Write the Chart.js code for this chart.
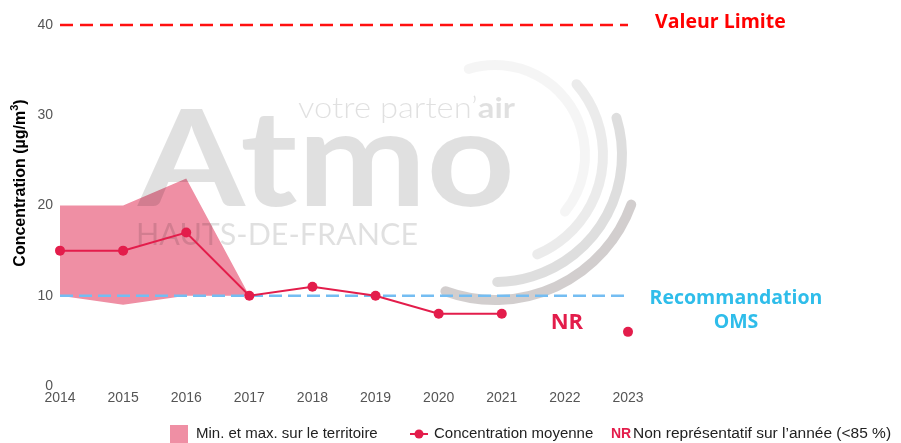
<!DOCTYPE html>
<html>
<head>
<meta charset="utf-8">
<script src="https://cdn.jsdelivr.net/npm/chart.js@4"></script>
<style>
  html, body { margin: 0; padding: 0; background: #fff; }
</style>
</head>
<body>
<canvas id="chart" width="901" height="443"></canvas>
<script>
const years = ["2014", "2015", "2016", "2017", "2018", "2019", "2020", "2021", "2022", "2023"];
const meanValues = [15, 15, 17, 10, 11, 10, 8, 8, null, 6];
const maxValues = [20, 20, 23, 10, null, null, null, null, null, null];
const minValues = [10, 9, 10, 10, null, null, null, null, null, null];
const yTicks = [0, 10, 20, 30, 40];
const limitValue = 40;
const omsValue = 10;
const nrYear = "2022";

const crimson = "#e31d4b";
const bandPink = "#ef8fa4";
const sans = '"Liberation Sans", Arial, sans-serif';

// logo in the background (drawn right after the min/max band)
function drawWatermark(ctx) {
  ctx.save();
  ctx.fillStyle = "rgba(0,0,0,0.12)";
  ctx.textBaseline = "alphabetic";

  ctx.font = 'bold 135px Lato, sans-serif';
  let w = ctx.measureText("Atmo").width;
  ctx.save();
  ctx.translate(138, 206);
  ctx.scale(377 / w, 1);
  ctx.fillText("Atmo", 0, 0);
  ctx.restore();

  ctx.font = '300 29px Lato, sans-serif';
  const light = "votre parten’";
  const lw = ctx.measureText(light).width;
  ctx.font = 'bold 29px Lato, sans-serif';
  const bw = ctx.measureText("air").width;
  ctx.save();
  ctx.translate(298, 118);
  ctx.scale(217 / (lw + bw), 1);
  ctx.font = '300 29px Lato, sans-serif';
  ctx.fillText(light, 0, 0);
  ctx.font = 'bold 29px Lato, sans-serif';
  ctx.fillText("air", lw, 0);
  ctx.restore();

  ctx.font = '31px Lato, sans-serif';
  w = ctx.measureText("HAUTS-DE-FRANCE").width;
  ctx.save();
  ctx.translate(136, 245);
  ctx.scale(282 / w, 1);
  ctx.fillText("HAUTS-DE-FRANCE", 0, 0);
  ctx.restore();

  const arcs = [
    { r: 90, a0: -107, a1: 39, c: "rgba(0,0,0,0.04)" },
    { r: 108, a0: -41, a1: 67, c: "rgba(0,0,0,0.08)" },
    { r: 127, a0: -17, a1: 89, c: "rgba(0,0,0,0.13)" },
    { r: 145, a0: 20, a1: 110, c: "rgba(90,75,75,0.27)" }
  ];
  ctx.lineWidth = 10;
  ctx.lineCap = "round";
  arcs.forEach(a => {
    ctx.strokeStyle = a.c;
    ctx.beginPath();
    ctx.arc(495, 155, a.r, a.a0 * Math.PI / 180, a.a1 * Math.PI / 180);
    ctx.stroke();
  });
  ctx.restore();
}

const extras = {
  id: "extras",
  afterDatasetDraw(chart, args) {
    if (args.index === 1) drawWatermark(chart.ctx);
  },
  afterDraw(chart) {
    const ctx = chart.ctx;
    const area = chart.chartArea;
    const x = chart.scales.x;
    const y = chart.scales.y;
    ctx.save();

    // y axis title
    ctx.save();
    ctx.translate(21, 183);
    ctx.rotate(-Math.PI / 2);
    ctx.fillStyle = "#000";
    ctx.textBaseline = "middle";
    ctx.font = "bold 16px " + sans;
    const t1 = "Concentration (µg/m";
    const w1 = ctx.measureText(t1).width;
    ctx.font = "bold 11px " + sans;
    const w2 = ctx.measureText("3").width;
    ctx.font = "bold 16px " + sans;
    const w3 = ctx.measureText(")").width;
    const sx = -(w1 + w2 + w3) / 2;
    ctx.textAlign = "left";
    ctx.fillText(t1, sx, 0);
    ctx.font = "bold 11px " + sans;
    ctx.fillText("3", sx + w1, -6);
    ctx.font = "bold 16px " + sans;
    ctx.fillText(")", sx + w1 + w2, 0);
    ctx.restore();

    // threshold labels
    ctx.textBaseline = "middle";
    ctx.font = 'bold 19.5px "Open Sans", sans-serif';
    ctx.fillStyle = "#ff0000";
    ctx.textAlign = "left";
    ctx.fillText("Valeur Limite", area.right + 27, y.getPixelForValue(limitValue) - 3);

    ctx.fillStyle = "#2fbdea";
    ctx.textAlign = "center";
    const oy = y.getPixelForValue(omsValue);
    ctx.fillText("Recommandation", area.right + 108, oy + 3);
    ctx.fillText("OMS", area.right + 108, oy + 27);

    ctx.fillStyle = crimson;
    ctx.font = 'bold 22px "Open Sans", sans-serif';
    ctx.fillText("NR", x.getPixelForValue(years.indexOf(nrYear)) + 2, y.getPixelForValue(7));

    // legend
    const ly = 434;
    ctx.textAlign = "left";
    ctx.fillStyle = bandPink;
    ctx.fillRect(170, 425, 18, 18);
    ctx.fillStyle = "#222";
    ctx.font = "15px " + sans;
    ctx.fillText("Min. et max. sur le territoire", 196, ly);

    ctx.strokeStyle = crimson;
    ctx.lineWidth = 2;
    ctx.beginPath();
    ctx.moveTo(410, ly);
    ctx.lineTo(428, ly);
    ctx.stroke();
    ctx.fillStyle = crimson;
    ctx.beginPath();
    ctx.arc(419, ly, 4.5, 0, Math.PI * 2);
    ctx.fill();
    ctx.fillStyle = "#222";
    ctx.fillText("Concentration moyenne", 434, ly);

    ctx.fillStyle = crimson;
    ctx.font = "bold 14px " + sans;
    ctx.fillText("NR", 611, ly);
    ctx.fillStyle = "#222";
    ctx.font = "15.5px " + sans;
    ctx.fillText("Non représentatif sur l’année (<85 %)", 633, ly);

    ctx.restore();
  }
};

new Chart(document.getElementById("chart").getContext("2d"), {
  type: "line",
  data: {
    labels: years,
    datasets: [
      {
        label: "Concentration moyenne",
        data: meanValues,
        borderColor: crimson,
        backgroundColor: crimson,
        borderWidth: 2,
        pointRadius: 5,
        pointBorderWidth: 0,
        spanGaps: false,
        fill: false,
        clip: false,
        order: 0
      },
      {
        label: "Max",
        data: maxValues,
        borderWidth: 0,
        borderColor: "rgba(0,0,0,0)",
        backgroundColor: bandPink,
        pointRadius: 0,
        fill: "+1",
        order: 3
      },
      {
        label: "Min",
        data: minValues,
        borderWidth: 0,
        borderColor: "rgba(0,0,0,0)",
        pointRadius: 0,
        fill: false,
        order: 4
      },
      {
        label: "Valeur Limite",
        data: years.map(() => limitValue),
        borderColor: "#ff1010",
        borderWidth: 2.5,
        borderDash: [13, 7],
        pointRadius: 0,
        fill: false,
        clip: false,
        order: 2
      },
      {
        label: "Recommandation OMS",
        data: years.map(() => omsValue),
        borderColor: "#74bdf2",
        borderWidth: 2.5,
        borderDash: [13, 6],
        pointRadius: 0,
        fill: false,
        clip: false,
        order: 1
      }
    ]
  },
  options: {
    responsive: false,
    animation: false,
    layout: {
      padding: { left: 0, right: 273, top: 25, bottom: 32 }
    },
    scales: {
      x: {
        offset: false,
        border: { display: false },
        grid: { display: false, drawTicks: false },
        ticks: {
          color: "#555",
          font: { family: sans, size: 14 },
          padding: 4,
          maxRotation: 0,
          autoSkip: false
        },
        afterFit: s => { s.height = 25; }
      },
      y: {
        min: 0,
        max: 40,
        border: { display: false },
        grid: { display: false, drawTicks: false },
        ticks: {
          color: "#555",
          font: { family: sans, size: 14 },
          padding: 7
        },
        afterBuildTicks: s => { s.ticks = yTicks.map(v => ({ value: v })); },
        afterFit: s => { s.width = 60; }
      }
    },
    plugins: {
      legend: { display: false },
      tooltip: { enabled: false }
    }
  },
  plugins: [extras]
});
</script>
</body>
</html>
